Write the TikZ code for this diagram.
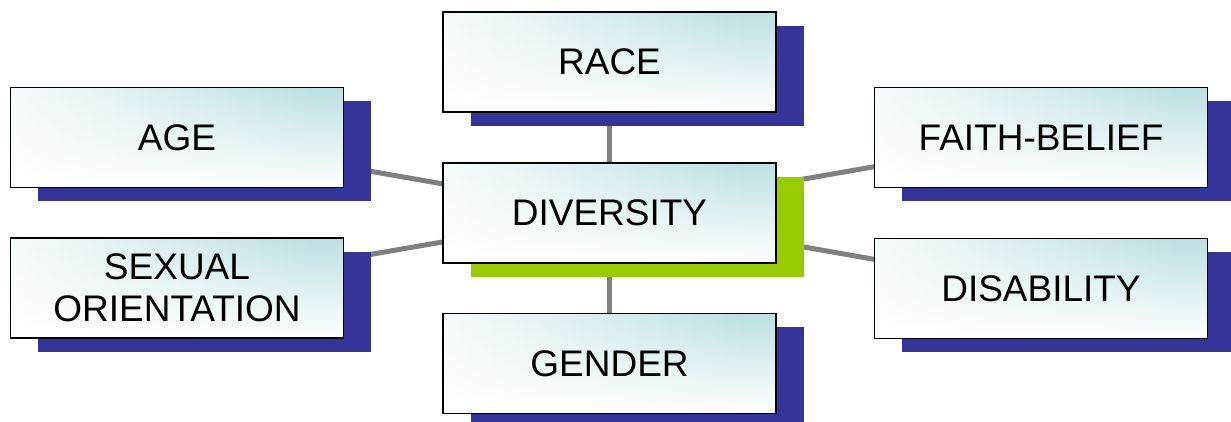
\documentclass[tikz,border=0pt]{standalone}
\usepackage{fontspec}
\setmainfont{Liberation Sans}
\usetikzlibrary{shadows,backgrounds,fadings}
\definecolor{tealc}{RGB}{189,224,227}
\definecolor{shblue}{RGB}{54,51,153}
\definecolor{shgreen}{RGB}{153,204,0}
\definecolor{linegray}{RGB}{128,128,128}
\pgfdeclarehorizontalshading{hshade}{100bp}{color(0bp)=(white); color(18bp)=(white); color(70bp)=(tealc); color(100bp)=(tealc)}
\tikzfading[name=bottomwhite, top color=transparent!100, middle color=transparent!80, bottom color=transparent!0]
\begin{document}
\begin{tikzpicture}[x=1pt,y=-1pt,
  boxbase/.style={draw=black, line width=1.5pt, shading=hshade, minimum width=333pt, minimum height=100pt, inner sep=0pt, font=\fontsize{37}{42}\selectfont, align=center,
    path picture={\fill[white, path fading=bottomwhite] (path picture bounding box.south west) rectangle (path picture bounding box.north east);}},
  topic/.style={boxbase, general shadow={fill=shblue, shadow xshift=27.5pt, shadow yshift=-13.5pt}},
  hub/.style={boxbase, general shadow={fill=shgreen, shadow xshift=27.5pt, shadow yshift=-13.5pt}},
  connector/.style={draw=linegray, line width=5pt}]
\useasboundingbox (0,0) rectangle (1231,421);
\node[topic] (race) at (609.5,62) {RACE};
\node[topic] (age) at (177,137.5) {AGE};
\node[topic] (faith) at (1041,137.5) {FAITH-BELIEF};
\node[hub] (div) at (609.5,213) {DIVERSITY};
\node[topic] (sex) at (177,288) {SEXUAL\\ORIENTATION};
\node[topic] (dis) at (1041,288.5) {DISABILITY};
\node[topic] (gen) at (609.5,363.5) {GENDER};
\begin{scope}[on background layer]
\draw[connector] (div.center) -- (race.center);
\draw[connector] (div.center) -- (age.center);
\draw[connector] (div.center) -- (faith.center);
\draw[connector] (div.center) -- (sex.center);
\draw[connector] (div.center) -- (dis.center);
\draw[connector] (div.center) -- (gen.center);
\end{scope}
\end{tikzpicture}
\end{document}
